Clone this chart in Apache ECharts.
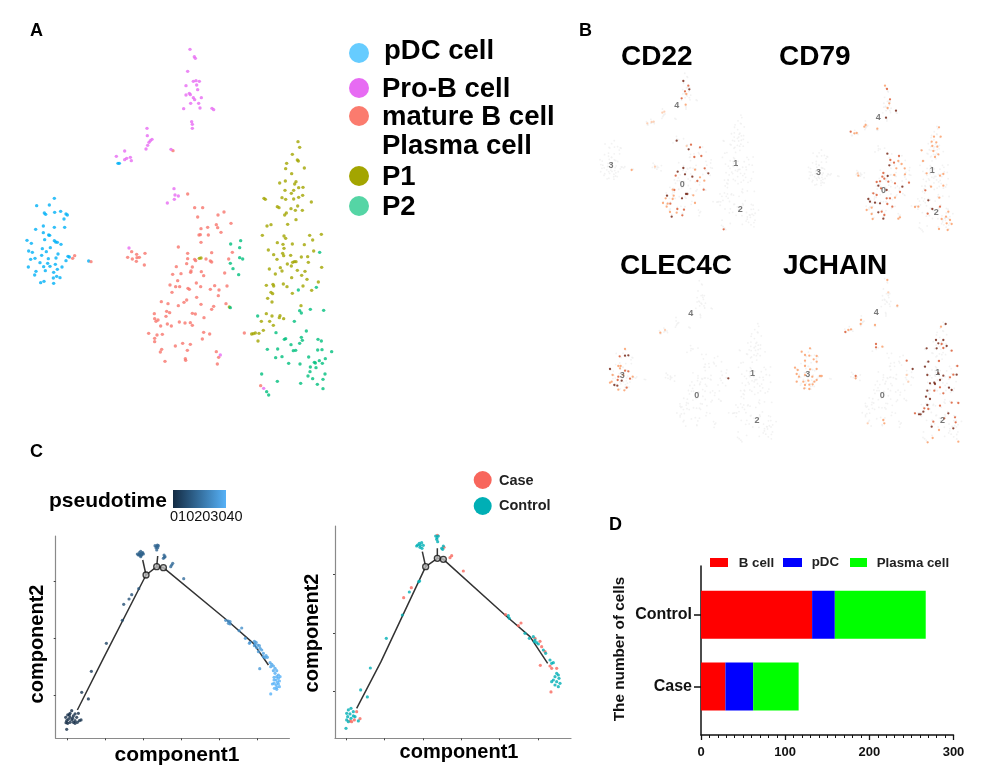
<!DOCTYPE html>
<html><head><meta charset="utf-8">
<style>html,body{margin:0;padding:0;background:#fff}#c{width:986px;height:782px}</style>
<script src="https://cdn.jsdelivr.net/npm/echarts@6/dist/echarts.min.js"></script>
</head><body><div id="c"></div>
<script>
// Panel A: cell embedding
const pDC=[[163,535],[110,557],[148,555],[133,579],[137,583],[164,577],[182,574],[198,582],[202,585],[192,597],[107,628],[130,618],[163,622],[194,622],[130,638],[146,645],[149,646],[134,659],[81,661],[94,670],[163,662],[167,666],[172,667],[183,673],[127,686],[151,683],[139,695],[86,693],[97,697],[125,706],[174,702],[204,709],[208,711],[92,718],[105,715],[145,716],[168,714],[120,728],[143,730],[166,733],[198,722],[85,741],[131,740],[150,739],[186,741],[172,748],[136,752],[161,757],[108,754],[104,765],[160,774],[170,769],[180,773],[122,788],[132,784],[161,790],[266,723],[354,430],[358,430]];
const matureB=[[224,707],[218,715],[273,725],[395,695],[383,712],[397,717],[410,703],[411,713],[418,712],[409,724],[435,700],[433,735],[519,392],[563,522],[584,563],[608,563],[654,585],[672,576],[593,591],[649,614],[693,610],[603,626],[623,622],[653,623],[663,637],[597,645],[601,644],[625,645],[603,667],[535,681],[563,700],[635,698],[697,697],[563,716],[584,718],[587,722],[618,717],[631,723],[635,726],[686,717],[560,731],[577,741],[529,740],[543,761],[573,753],[572,757],[518,763],[604,755],[611,767],[674,759],[533,782],[589,789],[602,800],[510,795],[527,800],[539,800],[564,805],[568,808],[631,808],[644,797],[657,810],[681,798],[516,817],[655,827],[590,832],[560,840],[552,847],[535,857],[504,851],[484,845],[603,853],[641,859],[635,868],[678,851],[500,874],[509,878],[498,889],[463,881],[577,880],[586,882],[612,893],[464,896],[468,904],[474,900],[482,918],[502,912],[514,918],[538,906],[555,909],[571,908],[577,916],[446,940],[471,945],[487,943],[611,937],[629,942],[464,955],[464,965],[607,957],[526,978],[548,970],[571,973],[485,988],[481,996],[562,991],[649,995],[656,1012],[495,1024],[556,1016],[557,1021],[652,1032],[733,939],[782,1097]];
const proB=[[570,88],[583,110],[586,115],[563,154],[580,184],[588,182],[598,184],[590,195],[558,197],[593,209],[558,225],[568,220],[571,224],[580,233],[584,239],[604,233],[572,250],[596,250],[551,266],[600,264],[636,265],[641,269],[575,305],[577,313],[577,325],[441,325],[442,347],[456,358],[451,362],[447,367],[443,376],[438,387],[513,388],[374,393],[349,409],[380,415],[374,419],[391,412],[394,422],[522,506],[525,525],[535,528],[523,538],[502,549],[387,684],[661,1005],[791,1105]];
const p1=[[894,365],[899,382],[877,403],[892,420],[895,423],[860,430],[913,444],[857,446],[875,461],[839,489],[856,483],[888,485],[884,492],[896,503],[909,502],[855,511],[881,511],[874,520],[908,526],[846,533],[857,538],[881,537],[896,532],[792,535],[796,538],[934,546],[893,558],[832,560],[837,563],[873,566],[886,571],[907,571],[859,579],[854,585],[888,599],[801,618],[813,614],[863,613],[787,646],[852,648],[929,646],[964,643],[857,655],[938,660],[832,668],[849,673],[877,672],[913,674],[852,685],[805,690],[941,693],[848,700],[851,707],[821,704],[872,706],[904,711],[923,710],[831,718],[883,725],[888,725],[878,727],[925,727],[862,732],[874,738],[965,742],[841,743],[808,747],[846,753],[892,751],[915,754],[826,762],[905,766],[875,773],[921,778],[955,786],[799,796],[819,793],[821,798],[850,792],[861,800],[909,798],[935,811],[803,835],[813,817],[818,821],[877,820],[816,846],[903,857],[799,881],[816,888],[840,887],[838,893],[851,896],[784,904],[809,904],[820,916],[790,931],[755,942],[760,941],[766,939],[777,940],[774,963],[598,715],[603,714],[688,861]];
const p2=[[692,672],[722,662],[719,683],[719,713],[728,717],[691,730],[699,746],[716,764],[691,863],[959,697],[949,802],[895,810],[899,872],[904,879],[931,868],[971,871],[773,888],[883,904],[919,933],[828,938],[853,958],[857,956],[904,952],[907,961],[954,958],[964,963],[873,974],[899,970],[802,988],[833,987],[880,992],[887,991],[953,990],[966,989],[995,995],[827,1013],[846,1010],[926,1011],[976,1016],[958,1022],[943,1027],[946,1029],[967,1030],[866,1030],[900,1032],[931,1041],[948,1043],[930,1055],[785,1062],[975,1062],[924,1068],[938,1076],[969,1078],[832,1084],[902,1090],[952,1093],[969,1106],[800,1115],[806,1125]];
// Panel A legend
const clusterNames=['pDC cell','Pro-B cell','mature B cell','Plasma cell','P1','P2'];
// Panel B: cluster numbers and expressing cells [x, y, level]
const clusterIds=[['3',144,700],['1',864,684],['0',556,828],['2',890,989],['4',523,302]];
const geneNames=['CD22','CD79','CLEC4C','JCHAIN'];
const cd22=[[325,183,3],[340,197,2],[343,208,3],[330,214,2],[334,222,1],[320,235,2],[332,254,1],[262,278,.5],[268,275,.5],[230,306,.5],[236,305,.5],[217,310,.5],[305,362,3],[348,374,2],[335,378,.5],[375,382,2],[341,388,3],[358,411,2],[379,408,2],[325,444,3],[389,445,2],[360,449,1],[308,455,3],[400,460,3],[330,463,3],[302,467,2],[352,470,3],[375,472,1],[367,483,2],[388,482,1],[298,510,2],[386,509,2],[333,522,3],[337,522,3],[293,509,1],[276,527,3],[296,527,1],[355,526,1],[272,535,1],[321,535,3],[293,537,1],[264,549,1],[278,551,1],[286,551,2],[360,549,1],[275,560,1],[307,567,2],[327,569,2],[285,576,1],[290,590,3],[322,586,2],[305,578,1],[446,628,2],[170,450,1],[240,440,.5]];
const cd79=[[930,197,1],[936,207,2],[945,238,2],[943,250,1],[938,264,1],[963,272,3],[933,293,3],[872,315,1],[868,320,1],[907,326,1],[827,335,2],[838,340,1],[845,339,1],[1092,322,1],[1077,350,1],[1097,350,1],[1070,365,1],[1084,367,1],[1072,378,1],[1087,380,1],[1075,393,1],[1040,391,1],[1090,403,1],[1080,411,1],[1044,423,1],[937,401,3],[972,408,2],[946,420,2],[957,428,2],[970,423,1],[980,432,1],[943,436,3],[964,445,1],[989,445,1],[925,459,2],[938,468,3],[922,470,2],[958,465,1],[990,463,1],[1055,460,1],[1105,462,1],[1095,467,1],[915,484,2],[928,476,2],[940,485,2],[905,486,2],[960,490,2],[1002,488,2],[982,500,3],[910,497,3],[918,505,2],[1105,497,1],[1068,500,1],[1051,511,2],[935,510,3],[975,516,2],[895,520,2],[905,525,2],[960,533,1],[880,537,3],[885,545,3],[900,548,3],[935,535,2],[945,535,2],[1093,533,1],[1060,541,3],[1095,560,2],[915,550,3],[937,552,2],[952,560,2],[890,563,1],[875,570,1],[1020,561,1],[1030,560,1],[1072,567,3],[1058,581,2],[1120,575,1],[910,577,3],[920,575,2],[928,585,2],[890,582,1],[975,592,1],[970,596,1],[893,597,1],[925,596,3],[1113,590,1],[1100,597,1],[1125,600,1],[1115,610,1],[1130,612,1],[1092,627,1],[1118,630,1],[850,467,1],[848,460,.5]];
const clec4c=[[150,327,1],[134,349,2],[150,347,3],[160,346,3],[130,378,1],[137,378,1],[105,387,3],[135,385,1],[150,392,2],[160,394,2],[113,405,1],[130,410,2],[145,405,1],[173,410,1],[165,416,2],[128,420,2],[140,422,3],[110,425,1],[105,428,1],[118,435,3],[127,437,3],[155,443,2],[130,449,1],[148,451,1],[460,415,3],[256,278,1],[270,270,.5]];
const jchain=[[937,120,1],[940,157,.5],[967,197,1],[858,240,1],[857,252,1],[900,255,1],[828,268,1],[820,270,1],[811,276,2],[1112,252,3],[1098,260,1],[1083,300,3],[1105,300,3],[1090,310,3],[1100,312,2],[1115,318,3],[1055,325,3],[1085,325,3],[1105,324,2],[1130,332,2],[903,312,2],[903,322,2],[922,320,1],[705,325,1],[680,335,1],[690,345,1],[703,347,1],[725,348,1],[716,358,1],[690,362,1],[725,365,1],[1092,363,2],[1060,365,3],[1050,380,3],[995,362,2],[1013,387,3],[1147,378,2],[660,383,1],[668,390,1],[690,378,1],[705,388,1],[725,387,1],[665,402,1],[672,410,1],[690,405,1],[712,410,1],[735,408,1],[740,408,1],[725,420,1],[665,425,1],[685,425,1],[700,422,1],[718,425,1],[690,435,1],[703,434,1],[713,433,1],[688,445,1],[703,447,1],[842,408,2],[842,415,1],[1057,405,3],[1090,400,3],[1105,407,3],[1135,404,2],[1145,404,3],[1125,412,2],[1065,430,3],[1078,428,3],[1095,420,3],[1080,432,3],[1122,443,3],[1095,442,2],[1130,450,3],[1057,452,3],[1078,452,2],[1105,460,2],[1053,470,3],[1065,477,3],[1095,497,2],[1057,495,3],[1130,488,2],[1150,489,2],[1048,505,2],[1060,507,2],[1045,515,3],[1020,520,2],[1032,523,3],[1037,523,3],[1120,520,3],[1108,535,2],[1075,545,2],[1140,532,2],[1142,547,2],[1070,560,3],[1135,565,3],[1092,570,1],[925,540,1],[928,550,1],[878,550,.5],[1058,607,1],[1073,594,1],[1150,605,1],[995,405,.5],[1000,425,.5]];
// Panel C left: [component1, component2, pseudotime]
const pseudoCells=[[140,748,1],[155,692,1],[150,700,1],[165,702,1],[175,700,1],[143,705,1],[137,712,1],[150,712,1],[160,708,1],[170,712,1],[145,718,1],[155,720,1],[140,722,1],[150,727,1],[160,727,1],[165,722,1],[178,722,2],[183,720,2],[172,727,2],[138,728,0],[148,705,1],[158,715,1],[143,730,0],[165,730,1],[205,657,3],[185,637,4],[214,574,6],[259,490,8],[307,421,10],[311,373,11],[327,357,12],[335,344,12],[356,326,13],[352,222,16],[358,218,16],[362,214,16],[368,218,16],[358,225,16],[365,225,16],[370,222,16],[362,230,16],[355,225,16],[360,222,16],[366,220,16],[362,226,16],[405,197,17],[412,195,17],[408,203,17],[413,203,17],[410,210,17],[415,197,17],[410,199,17],[432,225,18],[435,230,18],[430,235,18],[433,232,18],[458,250,19],[455,255,19],[452,260,19],[491,296,20],[617,421,29],[625,423,29],[630,425,29],[625,430,29],[630,432,29],[665,444,30],[657,452,30],[676,475,31],[688,490,32],[690,487,32],[703,484,33],[708,487,33],[705,492,33],[713,495,33],[703,497,33],[718,497,34],[710,503,34],[720,505,34],[725,510,35],[715,515,34],[730,520,35],[738,527,36],[730,530,35],[735,533,36],[742,532,36],[719,566,33],[750,548,37],[755,553,37],[760,558,38],[752,560,37],[765,565,38],[760,572,38],[770,572,39],[765,580,39],[775,585,39],[770,590,39],[762,592,39],[775,595,40],[768,600,40],[778,603,40],[772,607,40],[762,610,40],[775,612,40],[768,615,40],[778,620,40],[770,622,40],[763,625,40],[770,628,40],[752,642,40],[780,590,40],[757,612,40],[762,600,40]];
const trunkC1=[[172,690],[250,535],[378,285],[410,260],[430,263],[620,420],[700,490],[745,555]];
const branchC1a=[[378,285],[368,240]];
const branchC1b=[[410,260],[413,228]];
const nodesC1=[[378,285],[410,260],[430,263]];
const ticksC1x=[143,257,371,485,598,712];
const ticksC1y=[305,475,645];
const pseudotimeTicks=['0','10','20','30','40'];
// Panel C right
const caseCells=[[427,226],[470,287],[465,293],[505,333],[349,383],[326,413],[632,464],[678,489],[670,497],[735,544],[720,535],[740,560],[750,575],[736,616],[765,618],[770,625],[785,625],[768,696],[185,755],[195,776],[170,785],[165,783],[178,780],[447,262]];
const controlCells=[[153,805],[217,711],[197,690],[226,624],[274,535],[322,465],[343,396],[371,365],[374,363],[368,255],[373,250],[380,248],[385,256],[375,262],[381,265],[365,258],[376,256],[422,228],[430,228],[425,238],[428,245],[426,233],[445,258],[443,268],[440,265],[640,467],[643,475],[690,520],[703,535],[715,530],[720,540],[725,548],[718,545],[730,552],[745,570],[752,580],[765,600],[770,610],[775,608],[785,640],[790,645],[780,650],[792,655],[775,660],[785,665],[795,670],[780,675],[790,680],[770,665],[160,750],[168,745],[175,755],[155,760],[165,762],[175,768],[158,770],[180,770],[155,780],[168,775],[190,783],[160,785]];
const trunkC2=[[185,745],[258,605],[392,320],[427,295],[445,298],[630,465],[705,530],[758,610]];
const branchC2a=[[392,320],[382,275]];
const branchC2b=[[427,295],[427,265]];
const nodesC2=[[392,320],[427,295],[445,298]];
const ticksC2x=[153,269,384,499,614,729];
const ticksC2y=[342,520,695];
// Panel D
const groups=['Case','Control'];
const bCell=[29,132];
const pdcCell=[33,27];
const plasmaCell=[54,108];

const F='"Liberation Sans",Arial,sans-serif';
const grids=[],xAxes=[],yAxes=[],series=[];
function addGrid(g,x,y){const i=grids.length;grids.push(g);xAxes.push(Object.assign({gridIndex:i},x));yAxes.push(Object.assign({gridIndex:i},y));return i;}
const hidden={show:false,type:'value'};
const dot=(i,data,color,size,z,extra)=>series.push(Object.assign({type:'scatter',xAxisIndex:i,yAxisIndex:i,data,symbolSize:size,itemStyle:color?{color}:{},z:z||2,silent:true},extra||{}));

// A
const gA=addGrid({left:0,top:20,width:345,height:400},{...hidden,min:0,max:1035},{...hidden,min:0,max:1200,inverse:true});
dot(gA,pDC,'#00B0F6',3.4);dot(gA,matureB,'#F8766D',3.4);dot(gA,proB,'#E76BF3',3.4);dot(gA,p1,'#A3A500',3.4);dot(gA,p2,'#00BF7D',3.4);

// B backgrounds: same embedding as A, smaller
const allCells=[...pDC,...matureB,...proB,...p1,...p2];
[[586,60,179.4,181],[795.7,76,163.5,166],[596.3,267,187,186.4],[781.7,264.7,187,189]].forEach(r=>{
  const i=addGrid({left:r[0],top:r[1],width:r[2],height:r[3]},{...hidden,min:0,max:1035},{...hidden,min:0,max:1200,inverse:true});
  dot(i,allCells,'#efefef',1.8,1);
  dot(i,clusterIds.map(c=>({value:[c[1],c[2]],name:c[0]})),'rgba(0,0,0,0)',1,6,{label:{show:true,position:'inside',formatter:p=>p.name,fontSize:9,fontWeight:'bold',color:'#555',fontFamily:F}});
});
// B highlighted cells
const gU=addGrid({left:575,top:20,width:400,height:220},{...hidden,min:0,max:1200},{...hidden,min:0,max:660,inverse:true});
const gL=addGrid({left:575,top:240,width:400,height:220},{...hidden,min:0,max:1200},{...hidden,min:0,max:660,inverse:true});
const exprStart=series.length;
dot(gU,cd22,null,2.3,3);dot(gU,cd79,null,2.3,3);dot(gL,clec4c,null,2.3,3);dot(gL,jchain,null,2.3,3);
const exprIdx=[exprStart,exprStart+1,exprStart+2,exprStart+3];

// C panels
function cPanel(rect,xr,yr,tx,ty,trunk,bs,nodes){
  const axisLine={show:true,onZero:false,lineStyle:{color:'#8a8a8a',width:1.2}};
  const i=addGrid(rect,
    {type:'value',min:xr[0],max:xr[1],splitLine:{show:false},axisLine,axisLabel:{show:false},axisTick:{show:true,length:2,customValues:tx,lineStyle:{color:'#444'}}},
    {type:'value',min:yr[0],max:yr[1],inverse:true,splitLine:{show:false},axisLine,axisLabel:{show:false},axisTick:{show:true,length:2,customValues:ty,lineStyle:{color:'#444'}}});
  const line=(d,w)=>series.push({type:'line',xAxisIndex:i,yAxisIndex:i,data:d,showSymbol:false,silent:true,z:3,lineStyle:{color:'#333',width:w},animation:false});
  line(trunk,1.5);bs.forEach(b=>line(b,1.5));
  dot(i,nodes,'#bbb',6,5,{itemStyle:{color:'#bbb',borderColor:'#111',borderWidth:1.3}});
  return i;
}
const gC1=cPanel({left:55.7,top:536,width:233.7,height:202.3},[107,808],[168,775],ticksC1x,ticksC1y,trunkC1,[branchC1a,branchC1b],nodesC1);
const pseudoIdx=series.length;
dot(gC1,pseudoCells,null,3.2,4);
const gC2=cPanel({left:335,top:526,width:236,height:212.3},[120,828],[198,835],ticksC2x,ticksC2y,trunkC2,[branchC2a,branchC2b],nodesC2);
dot(gC2,caseCells,'#F8665C',3.2,4);dot(gC2,controlCells,'#00AFB5',3.2,4);

// D: axes grid and bar grid
const blackLine={show:true,lineStyle:{color:'#111',width:1.5}};
addGrid({left:701,top:566,width:252.5,height:169},
  {type:'value',min:0,max:300,interval:100,position:'bottom',splitLine:{show:false},axisLine:blackLine,
   axisTick:{show:true,length:5,lineStyle:{color:'#111',width:1.3}},minorTick:{show:true,splitNumber:10,length:3,lineStyle:{color:'#111',width:1}},
   axisLabel:{color:'#111',fontWeight:'bold',fontSize:13,fontFamily:F,margin:11}},
  {type:'value',min:0,max:1,axisLine:blackLine,axisTick:{show:false},axisLabel:{show:false},splitLine:{show:false}});
series.push({type:'scatter',xAxisIndex:grids.length-1,yAxisIndex:grids.length-1,data:[],silent:true});
const gD=addGrid({left:701,top:579,width:252.5,height:143.4},
  {...hidden,min:0,max:300},
  {type:'category',data:groups,axisLine:{show:false},axisTick:{show:true,length:7,alignWithLabel:true,lineStyle:{color:'#111',width:1.5}},
   axisLabel:{color:'#111',fontWeight:'bold',fontSize:16,fontFamily:F,margin:9}});
[['B cell',bCell,'#FF0000'],['pDC',pdcCell,'#0000FF'],['Plasma cell',plasmaCell,'#00FF00']].forEach(s=>{
  series.push({type:'bar',name:s[0],stack:'n',xAxisIndex:gD,yAxisIndex:gD,data:s[1],barWidth:48,itemStyle:{color:s[2]},silent:true});
});

// Text and legends
const T=(text,x,y,size,opt)=>Object.assign({type:'text',x,y,rotation:(opt&&opt.rot)||0,style:{text,fill:(opt&&opt.fill)||'#000',font:`${(opt&&opt.weight)||'bold'} ${size}px ${F}`,textAlign:(opt&&opt.align)||'left',textVerticalAlign:'middle'}});
const C=(x,y,r,fill)=>({type:'circle',shape:{cx:x,cy:y,r},style:{fill}});
const R=(x,y,w,h,fill)=>({type:'rect',shape:{x,y,width:w,height:h},style:{fill}});
const graphic=[
  T('A',30,31,18),T('B',579,31,18),T('C',30,452,18),T('D',609,525,18),
  C(359,53,10,'#66CCFF'),C(359,88,10,'#E76BF3'),C(359,116,10,'#FB7B6E'),C(359,176,10,'#A3A500'),C(359,206,10,'#55D5A5'),
  T(clusterNames[0],384,51,27.5),T(clusterNames[1],382,89,27.5),T(clusterNames[2],382,117,27.5),T(clusterNames[3],382,146,27.5),T(clusterNames[4],382,177,27.5),T(clusterNames[5],382,207,27.5),
  T(geneNames[0],621,57,28),T(geneNames[1],779,57,28),T(geneNames[2],620,266,28),T(geneNames[3],783,266,28),
  T('pseudotime',49,501,21),
  {type:'rect',shape:{x:173,y:490,width:53,height:18},style:{fill:new echarts.graphic.LinearGradient(0,0,1,0,[{offset:0,color:'#132B43'},{offset:1,color:'#56B1F7'}])}},
  T(pseudotimeTicks.join(''),170,517,14.5,{weight:'normal',fill:'#111'}),
  T('component1',177,755,21,{align:'center'}),T('component2',37,644,20,{align:'center',rot:Math.PI/2}),
  T('component1',459,752,20,{align:'center'}),T('component2',312,633,20,{align:'center',rot:Math.PI/2}),
  C(482.7,480,9,'#F8665C'),C(482.7,506,9,'#00AFB5'),
  T('Case',499,481,14.5,{fill:'#222'}),T('Control',499,506,14.5,{fill:'#222'}),
  R(710,558,18,9,'#FF0000'),T('B cell',738.7,563,13.3,{fill:'#222'}),
  R(783,558,19,9,'#0000FF'),T('pDC',811.7,562,13.3,{fill:'#222'}),
  R(850,558,17,9,'#00FF00'),T('Plasma cell',876.7,563,13.3,{fill:'#222'}),
  T('The number of cells',620,649,15.3,{align:'center',rot:Math.PI/2,fill:'#111'})
];

const chart=echarts.init(document.getElementById('c'),null,{renderer:'canvas',width:986,height:782});
chart.setOption({
  animation:false,backgroundColor:'#fff',
  grid:grids,xAxis:xAxes,yAxis:yAxes,series,graphic,
  visualMap:[
    {show:false,seriesIndex:exprIdx,dimension:2,min:0,max:3,inRange:{color:['#fff0e4','#fb9a63','#d9542b','#6f1d0b']}},
    {show:false,seriesIndex:pseudoIdx,dimension:2,min:0,max:40,inRange:{color:['#132B43','#56B1F7']}}
  ]
});
</script></body></html>
